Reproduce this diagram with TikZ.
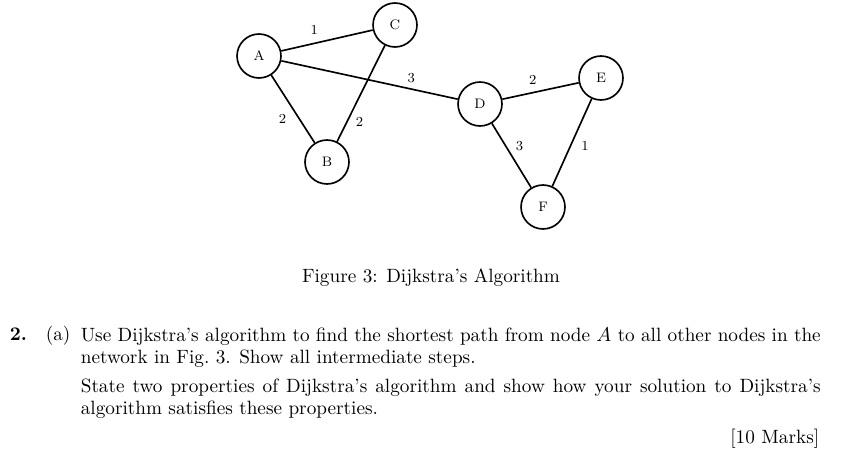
\documentclass[tikz,border=0pt]{standalone}
\usetikzlibrary{automata,positioning}

\begin{document}
\begin{tikzpicture}[x=0.546pt,y=-0.546pt,line width=0.9pt,auto,font=\fontsize{10.5}{12}\selectfont]
\tikzstyle{every state}=[fill=white,shape=circle,draw,line width=0.9pt,text=black,minimum size=24pt,inner sep=0pt,font=\fontsize{7.5}{9}\selectfont]
\tikzstyle{weight}=[font=\fontsize{7.5}{9}\selectfont,inner sep=3pt]
\useasboundingbox (0,0) rectangle (853,452);

\node[state]        (A) at (259,56)  {A};
\node[state]        (C) at (395,25)  {C};
\node[state]        (B) at (327,162) {B};
\node[state]        (D) at (480,104) {D};
\node[state]        (E) at (601,78)  {E};
\node[state]        (F) at (543,207) {F};

\path
(A) edge node[weight,pos=0.47] {1} (C)
(A) edge node[weight,pos=0.69,inner sep=2pt] {3} (D)
(A) edge node[weight,pos=0.49,swap] {2} (B)
(C) edge node[weight,pos=0.7,inner sep=2pt] {2} (B)
(D) edge node[weight,pos=0.53] {2} (E)
(D) edge node[weight,pos=0.5,inner sep=2pt] {3} (F)
(E) edge node[weight,pos=0.42] {1} (F)
;

% caption and question
\node (caption) at (431,278) {Figure 3: Dijkstra's Algorithm};
\node[anchor=base west,font=\fontsize{10.5}{12}\selectfont\bfseries,inner sep=0pt] (num) at (9,340) {2.};
\node[anchor=base west,inner sep=0pt] (part) at (45,340) {(a)};
\node[anchor=north west,text width=404pt,align=justify,inner sep=0pt] (task) at (80,327)
  {Use Dijkstra's algorithm to find the shortest path from node $A$ to all other nodes in the\linebreak
   network in Fig.~3. Show all intermediate steps.\par\vspace{4pt}
   State two properties of Dijkstra's algorithm and show how your solution to Dijkstra's\linebreak
   algorithm satisfies these properties.};
\node[anchor=base east,inner sep=0pt] (marks) at (820,443) {[10 Marks]};
\end{tikzpicture}
\end{document}
